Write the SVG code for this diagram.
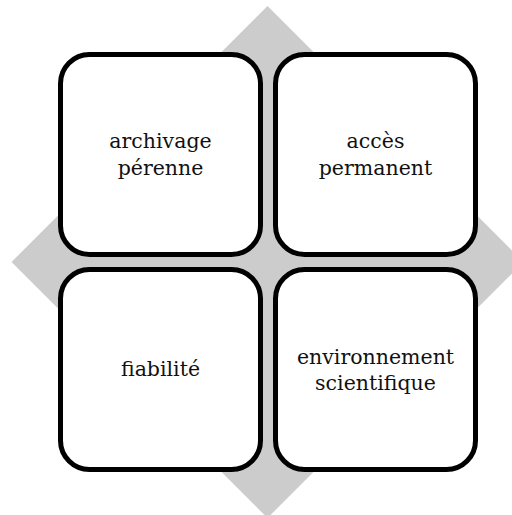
<svg xmlns="http://www.w3.org/2000/svg" width="512" height="515" viewBox="0 0 512 515">
<style>
.box{fill:#ffffff;stroke:#000000;stroke-width:5}
.lbl{font-family:"DejaVu Serif","Liberation Serif",serif;font-size:20.5px;fill:#111111;text-anchor:middle}
</style>
<rect width="512" height="515" fill="#ffffff"/>
<g id="background">
<polygon points="267.5,6 523.5,262 267.5,518 11.5,262" fill="#cccccc"/>
</g>
<g id="connectors"></g>
<g id="node-archivage">
<rect class="box" x="60.5" y="54.5" width="200" height="200" rx="29"/>
<text class="lbl" x="160.5" y="148">archivage</text>
<text class="lbl" x="160.5" y="175">pérenne</text>
</g>
<g id="node-acces">
<rect class="box" x="275.5" y="54.5" width="200" height="200" rx="29"/>
<text class="lbl" x="375.5" y="148">accès</text>
<text class="lbl" x="375.5" y="175">permanent</text>
</g>
<g id="node-fiabilite">
<rect class="box" x="60.5" y="269.5" width="200" height="200" rx="29"/>
<text class="lbl" x="160.5" y="376">fiabilité</text>
</g>
<g id="node-environnement">
<rect class="box" x="275.5" y="269.5" width="200" height="200" rx="29"/>
<text class="lbl" x="375.5" y="364">environnement</text>
<text class="lbl" x="375.5" y="390">scientifique</text>
</g>
</svg>
